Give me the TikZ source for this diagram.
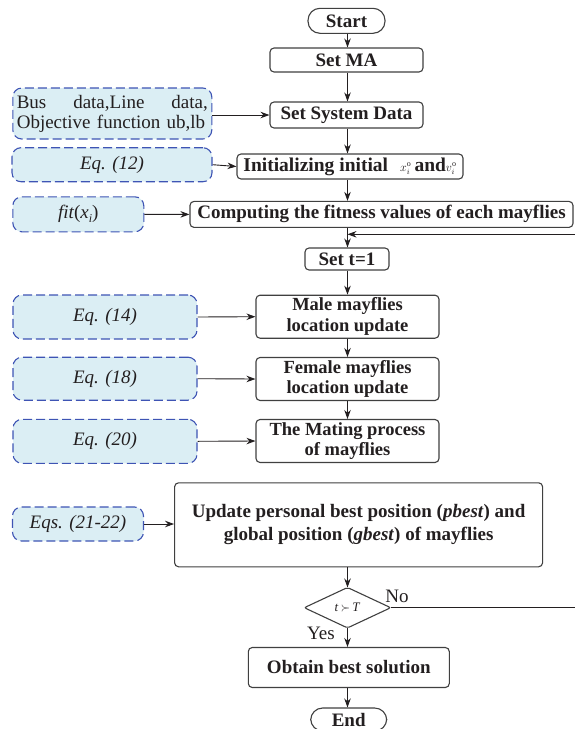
\documentclass[tikz,border=0pt]{standalone}
\usepackage{fontspec}
\setmainfont{Liberation Serif}
\usetikzlibrary{arrows.meta}
\definecolor{eqfill}{RGB}{219,238,244}
\definecolor{eqdraw}{RGB}{62,84,180}
\definecolor{boxdraw}{RGB}{64,64,64}
\definecolor{txt}{RGB}{35,31,32}
\newcommand\myvarsupsub[1]{{\fontsize{12}{12}\selectfont\mdseries$#1_{i}^{\mathrm{o}}$}}
\begin{document}
\begin{tikzpicture}[x=1pt,y=-1pt,
  proc/.style={draw=boxdraw, line width=1.1pt, rounded corners=4pt, fill=white, inner sep=0pt, align=center,
    font=\fontsize{19}{21}\selectfont\bfseries, text=txt},
  term/.style={proc, rounded corners=12pt},
  eqbox/.style={draw=eqdraw, line width=1.1pt, dash pattern=on 9pt off 4pt, rounded corners=9pt, fill=eqfill,
    inner sep=0pt, align=center, font=\fontsize{19}{21}\selectfont\itshape, text=txt},
  arr/.style={draw=txt, line width=0.9pt, -{Stealth[length=9pt,width=6.5pt]}},
  lbl/.style={font=\fontsize{19}{21}\selectfont, text=txt, inner sep=0pt}
]
\useasboundingbox (0,0) rectangle (574,729);
\coordinate (col) at (347.5,0);
\coordinate (fbx) at (577,0);
\coordinate (merge) at (347.5,234.3);

% main column
\node[term, minimum width=77pt, minimum height=25pt] (start) at (346.5,20.8) {Start};
\node[proc, minimum width=153pt, minimum height=24pt] (setma) at (346.5,60) {Set MA};
\node[proc, minimum width=153pt, minimum height=26pt] (ssd) at (346.5,115) {Set System Data};
\node[proc, minimum width=226pt, minimum height=25pt, font=\fontsize{19.5}{21}\selectfont\bfseries] (init) at (350,166.5)
  {Initializing initial\hspace{12pt}\myvarsupsub{x}\,and\myvarsupsub{v}};
\node[proc, minimum width=383pt, minimum height=26pt] (comp) at (381.5,214.4) {Computing the fitness values of each mayflies};
\node[proc, minimum width=84pt, minimum height=22pt] (sett) at (347,259) {Set t=1};
\node[proc, minimum width=183pt, minimum height=43pt, font=\fontsize{18.5}{20.7}\selectfont\bfseries] (male) at (347.5,316.7) {Male mayflies\\location update};
\node[proc, minimum width=183pt, minimum height=43pt, font=\fontsize{18.5}{20.7}\selectfont\bfseries] (female) at (347.5,379) {Female mayflies\\location update};
\node[proc, minimum width=183pt, minimum height=43pt, font=\fontsize{18.5}{20.7}\selectfont\bfseries] (mating) at (347.5,441) {The Mating process\\of mayflies};
\node[proc, minimum width=368pt, minimum height=84pt, font=\fontsize{19}{22.7}\selectfont\bfseries] (update) at (358.6,524.8)
  {Update personal best position (\textit{pbest}) and\\global position (\textit{gbest}) of mayflies};
\node[minimum width=86pt, minimum height=40pt, inner sep=0pt] (dec) at (347.5,607.7)
  {\fontsize{13}{13}\selectfont\color{txt}\textit{t}\,$\succ$\,\textit{T}};
\draw[draw=boxdraw, line width=1.1pt, rounded corners=2pt] (dec.west) -- (dec.north) -- (dec.east) -- (dec.south) -- cycle;
\node[proc, minimum width=201pt, minimum height=40pt] (obtain) at (348.8,667.5) {Obtain best solution};
\node[term, minimum width=76pt, minimum height=23pt] (end) at (348.7,719.5) {End};

% side inputs
\node[eqbox, minimum width=199pt, minimum height=51pt, text width=191pt, align=left,
  font=\fontsize{19}{20}\selectfont\upshape] (bus) at (112.3,113.5)
  {Bus\hfill data,Line\hfill data,\\Objective function ub,lb};
\node[eqbox, minimum width=200pt, minimum height=34pt] (eq12) at (112,164.7) {Eq. (12)};
\node[eqbox, minimum width=131pt, minimum height=35pt] (fit) at (78.3,214.3)
  {fit{\upshape(}x\raisebox{-4pt}{\fontsize{12}{12}\selectfont i}{\upshape)}};
\node[eqbox, minimum width=184pt, minimum height=44pt] (eq14) at (105,317) {Eq. (14)};
\node[eqbox, minimum width=184pt, minimum height=43pt] (eq18) at (105,378.7) {Eq. (18)};
\node[eqbox, minimum width=184pt, minimum height=44pt] (eq20) at (105,441.3) {Eq. (20)};
\node[eqbox, minimum width=131pt, minimum height=34pt] (eqs) at (78,524) {Eqs. (21-22)};

% labels
\node[lbl] (no) at (397,596) {No};
\node[lbl] (yes) at (321,633) {Yes};

% main arrows
\draw[arr] (start.south -| col) -- (setma.north -| col);
\draw[arr] (setma.south -| col) -- (ssd.north -| col);
\draw[arr] (ssd.south -| col) -- (init.north -| col);
\draw[arr] (init.south -| col) -- (comp.north -| col);
\draw[arr] (comp.south -| col) -- (sett.north -| col);
\draw[arr] (sett.south -| col) -- (male.north -| col);
\draw[arr] (male.south -| col) -- (female.north -| col);
\draw[arr] (female.south -| col) -- (mating.north -| col);
\draw[arr] (update.south -| col) -- (dec.north);
\draw[arr] (dec.south) -- (obtain.north -| col);
\draw[arr] (obtain.south -| col) -- (end.north -| col);
\draw[arr] (dec.east) -- (dec.east -| fbx) |- (merge);

% side arrows
\draw[arr] (bus.east |- ssd.west) -- (ssd.west);
\draw[arr] (eq12.east) -- (init.west);
\draw[arr] (fit.east) -- (comp.west);
\draw[arr] (eq14.east) -- (male.west);
\draw[arr] (eq18.east) -- (female.west);
\draw[arr] (eq20.east) -- (mating.west);
\draw[arr] (eqs.east) -- (update.west |- eqs.east);
\end{tikzpicture}
\end{document}
